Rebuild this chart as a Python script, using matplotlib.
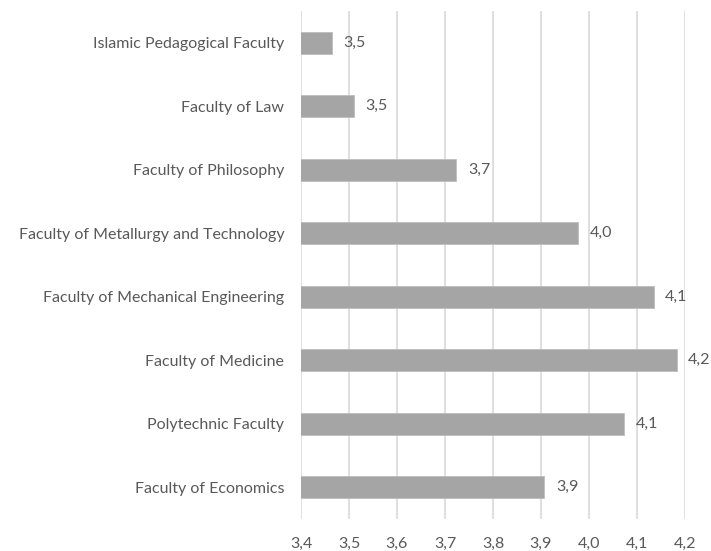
import matplotlib.pyplot as plt
from matplotlib.ticker import FuncFormatter

# data, bottom to top as drawn
faculties = [
    "Faculty of Economics",
    "Polytechnic Faculty",
    "Faculty of Medicine",
    "Faculty of Mechanical Engineering",
    "Faculty of Metallurgy and Technology",
    "Faculty of Philosophy",
    "Faculty of Law",
    "Islamic Pedagogical Faculty",
]
scores = [3.907, 4.073, 4.183, 4.135, 3.978, 3.724, 3.510, 3.464]
ticks = [3.4, 3.5, 3.6, 3.7, 3.8, 3.9, 4.0, 4.1, 4.2]

plt.rcParams['font.family'] = ['Lato', 'DejaVu Sans']
txt = '#595959'

fig = plt.figure(figsize=(7.11, 5.51), dpi=100)
ax = fig.add_axes([0.4233, 0.058, 0.540, 0.922])

y = range(len(faculties))
ax.barh(y, scores, height=0.34, left=0, color='#A5A5A5', edgecolor='#BDBDBD',
        linewidth=0.6, zorder=3)

for yi, v in zip(y, scores):
    ax.text(v + 0.024, yi, f"{v:.1f}".replace('.', ','), va='center', ha='left',
            fontsize=11.5, color=txt)

ax.set_xlim(3.4, 4.2)
ax.set_ylim(-0.5, len(faculties) - 0.5)
ax.set_xticks(ticks)
ax.xaxis.set_major_formatter(FuncFormatter(lambda v, p: f"{v:.1f}".replace('.', ',')))
ax.set_yticks(list(y))
ax.set_yticklabels(faculties)
ax.tick_params(axis='both', length=0, labelsize=11.5, labelcolor=txt)
ax.tick_params(axis='x', pad=13)
ax.tick_params(axis='y', pad=12)

ax.grid(axis='x', color='#D9D9D9', linewidth=1.2, zorder=0)
for s in ax.spines.values():
    s.set_visible(False)

fig.savefig('out.png', dpi=100)
